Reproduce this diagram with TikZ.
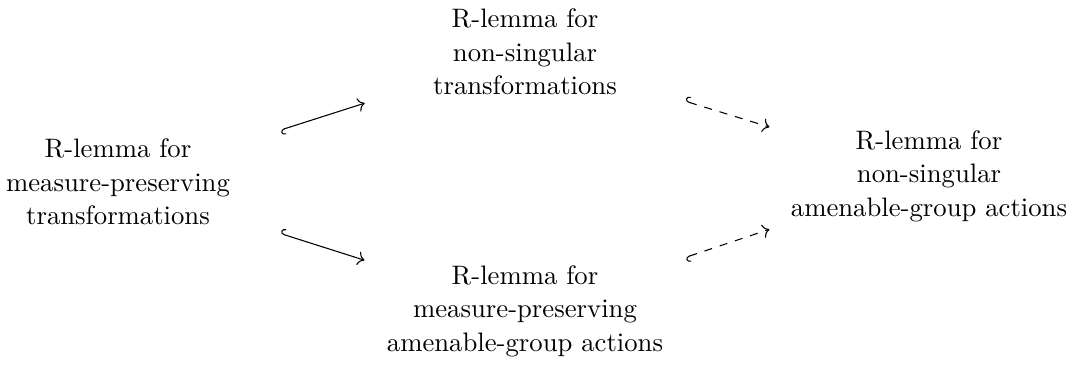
\documentclass[tikz,border=0pt]{standalone}
\usetikzlibrary{cd}
\begin{document}
\begin{tikzpicture}[x=0.37453pt,y=-0.37453pt,
  lbl/.style={align=center,inner sep=0pt,font=\fontsize{10}{12.6}\selectfont},
  arr/.style={line width=0.4pt,-{cm to}}]
\useasboundingbox (0,0) rectangle (1074,364);
\node[lbl] (L) at (118,182) {R-lemma for\\measure-preserving\\transformations};
\node[lbl] (T) at (525,52) {R-lemma for\\non-singular\\transformations};
\node[lbl] (B) at (525,311) {R-lemma for\\measure-preserving\\amenable-group actions};
\node[lbl] (R) at (929,176) {R-lemma for\\non-singular\\amenable-group actions};
\draw[arr,{cm left hook}-{cm to},shorten <=19.7pt,shorten >=26.7pt] (L) -- (T);
\draw[arr,{cm right hook}-{cm to},shorten <=19.7pt,shorten >=8.6pt] (L) -- (B);
\draw[arr,dashed,{cm right hook}-{cm to},shorten <=26.6pt,shorten >=8.2pt] (T) -- (R);
\draw[arr,dashed,{cm left hook}-{cm to},shorten <=8.7pt,shorten >=8.3pt] (B) -- (R);
\end{tikzpicture}
\end{document}
